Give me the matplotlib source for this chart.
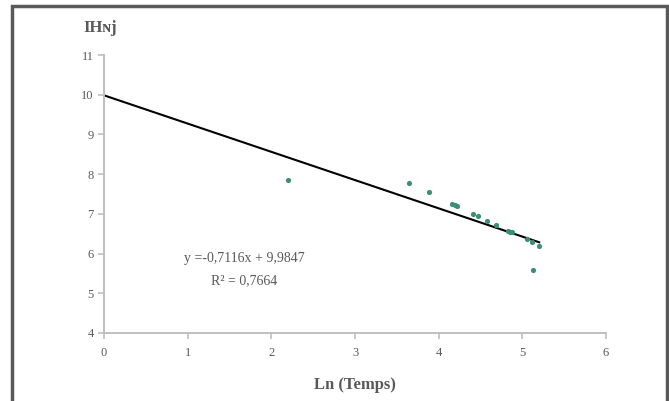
import matplotlib
matplotlib.use("Agg")
import matplotlib.pyplot as plt
import numpy as np
from matplotlib.patches import Rectangle

# measured points: ln(time) vs IHNj
ln_temps = [2.20, 3.64, 3.88, 4.16, 4.19, 4.22, 4.41, 4.47, 4.58, 4.69,
            4.83, 4.85, 4.87, 5.05, 5.11, 5.13, 5.20]
ihnj = [7.85, 7.78, 7.54, 7.24, 7.22, 7.19, 7.00, 6.94, 6.82, 6.72,
        6.58, 6.55, 6.54, 6.36, 6.29, 5.58, 6.20]

slope, intercept = -0.7116, 9.9847
x_ticks = [0, 1, 2, 3, 4, 5, 6]
y_ticks = [4, 5, 6, 7, 8, 9, 10, 11]

plt.rcParams["font.family"] = ["Liberation Serif", "DejaVu Serif"]
txt = "#595959"
axis_c = "#bfbfbf"

fig = plt.figure(figsize=(6.69, 4.01), dpi=100)
ax = fig.add_axes([0.1555, 0.1696, 0.7505, 0.6932])

xfit = np.array([0, max(ln_temps)])
ax.plot(xfit, slope * xfit + intercept, color="black", lw=1.5, zorder=2)
ax.scatter(ln_temps, ihnj, s=14, color="#3b8f72", zorder=3, linewidths=0)

ax.set_xlim(0, 6)
ax.set_ylim(4, 11)
ax.set_xticks(x_ticks)
ax.set_yticks(y_ticks)
for side in ("top", "right"):
    ax.spines[side].set_visible(False)
for side in ("left", "bottom"):
    ax.spines[side].set_color(axis_c)
    ax.spines[side].set_linewidth(1.4)
ax.tick_params(colors=axis_c, labelcolor=txt, labelsize=9, length=4,
               width=1.2, direction="out")
ax.tick_params(axis="x", pad=6)

ax.set_xlabel("Ln (Temps)", fontsize=12, fontweight="bold", color=txt,
              labelpad=13)
fig.text(0.149, 0.93, "IH\u0274j", fontsize=12, fontweight="bold",
         color=txt, ha="center", va="center")

ax.text(1.68, 5.88, "y =-0,7116x + 9,9847", fontsize=10, color=txt,
        ha="center", va="center")
ax.text(1.68, 5.32, "R\u00b2 = 0,7664", fontsize=10, color=txt,
        ha="center", va="center")

# outer frame
fig.patches.append(Rectangle((12 / 669, -0.05), 655 / 669, 1.05 - 6 / 401,
                             transform=fig.transFigure, fill=False,
                             edgecolor="#595959", lw=2.5))

fig.savefig("out.png", dpi=100)
